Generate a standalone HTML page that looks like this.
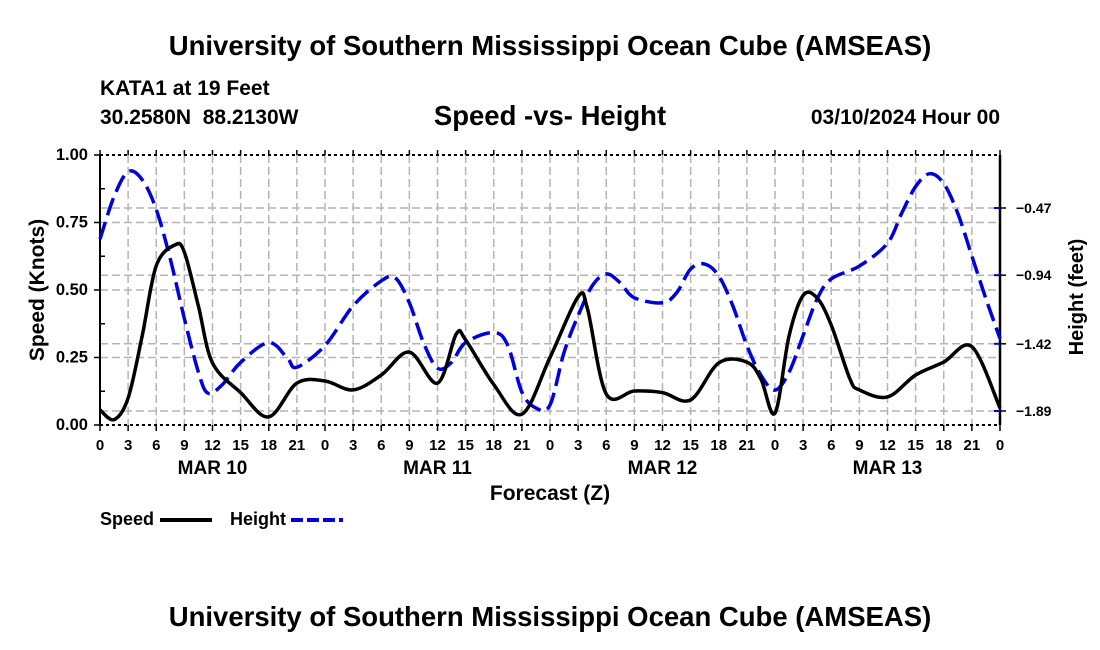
<!DOCTYPE html>
<html><head><meta charset="utf-8"><style>
body{margin:0;background:#fff}
svg{display:block;font-family:"Liberation Sans",sans-serif;font-weight:bold}
</style></head><body>
<svg width="1100" height="650" viewBox="0 0 1100 650">
<text x="550" y="55" text-anchor="middle" font-size="27.5">University of Southern Mississippi Ocean Cube (AMSEAS)</text>
<text x="100" y="95" font-size="21">KATA1 at 19 Feet</text>
<text x="100" y="124" font-size="21" xml:space="preserve">30.2580N  88.2130W</text>
<text x="550" y="125" text-anchor="middle" font-size="27.5">Speed -vs- Height</text>
<text x="1000" y="124" text-anchor="end" font-size="21">03/10/2024 Hour 00</text>
<g id="grid"></g>
<g id="axes"></g>
<g id="series"></g>
<text x="550" y="500" text-anchor="middle" font-size="21">Forecast (Z)</text>
<text transform="translate(44,290) rotate(-90)" text-anchor="middle" font-size="21">Speed (Knots)</text>
<text transform="translate(1083,297) rotate(-90)" text-anchor="middle" font-size="20">Height (feet)</text>
<g><text x="100" y="525" font-size="18">Speed</text><line x1="160" y1="520" x2="212" y2="520" stroke="#000" stroke-width="4"/></g>
<g><text x="230" y="525" font-size="18">Height</text><line x1="291" y1="520" x2="343" y2="520" stroke="#0000dd" stroke-width="4" stroke-dasharray="12 4"/></g>
<text x="550" y="626" text-anchor="middle" font-size="27.5">University of Southern Mississippi Ocean Cube (AMSEAS)</text>
</svg>
<script>
const speedHours=[0,1.5,3,4.5,6,8,9,10.5,12,15,18,21,24,27,30,33,36,38,39,42,45,48,51,52,54,57,60,63,66,69,70.5,72,73.5,75,76.5,78,80,81,84,87,90,93,96];
const speedValues=[0.056,0.02,0.10,0.33,0.59,0.667,0.64,0.44,0.23,0.12,0.03,0.155,0.163,0.13,0.185,0.27,0.155,0.337,0.315,0.15,0.04,0.25,0.475,0.43,0.115,0.126,0.12,0.093,0.23,0.233,0.17,0.044,0.33,0.48,0.47,0.37,0.17,0.13,0.104,0.185,0.233,0.29,0.063];
const heightHours=[0,1.5,3,4.5,6,7.5,9,10.5,11.5,13,15,18,20,21,24,27,30,31.5,33,34.5,36,37.5,39,42,43.5,45,46.5,48,49.5,51,52.5,54,55.5,57,60,61.5,63,64.5,66,67.5,69,70.5,72,73.5,75,76.5,78,81,84,85.5,87,88.5,90,91.5,93,94.5,96];
const heightValues=[-0.688,-0.39,-0.216,-0.272,-0.48,-0.827,-1.244,-1.619,-1.765,-1.709,-1.55,-1.411,-1.522,-1.584,-1.432,-1.154,-0.98,-0.959,-1.133,-1.411,-1.591,-1.55,-1.411,-1.341,-1.432,-1.758,-1.869,-1.848,-1.48,-1.223,-1.015,-0.931,-0.994,-1.098,-1.133,-1.063,-0.897,-0.862,-0.945,-1.154,-1.432,-1.64,-1.744,-1.619,-1.362,-1.105,-0.966,-0.876,-0.716,-0.508,-0.32,-0.23,-0.299,-0.508,-0.806,-1.105,-1.383];
const speedTicks=[0,0.25,0.5,0.75,1.0];
const speedTickLabels=["0.00","0.25","0.50","0.75","1.00"];
const heightTicks=[-1.89,-1.42,-0.94,-0.47];
const heightTickLabels=["-1.89","-1.42","-0.94","-0.47"];
const hourLabels=["0","3","6","9","12","15","18","21"];
const dayLabels=["MAR 10","MAR 11","MAR 12","MAR 13"];

const L=100,R=1000,T=155,B=425;
const xS=h=>L+(h/96)*(R-L);
const yS=v=>B-v*(B-T);
const H0=-1.89,H1=-0.47,HY0=411,HY1=208;
const yH=v=>HY0+(v-H0)/(H1-H0)*(HY1-HY0);
const NS="http://www.w3.org/2000/svg";
function mk(tag,attrs,parent){const e=document.createElementNS(NS,tag);for(const k in attrs)e.setAttribute(k,attrs[k]);parent.appendChild(e);return e;}
const grid=document.getElementById('grid'),axes=document.getElementById('axes'),series=document.getElementById('series');
const gs={stroke:"#b4b4b4","stroke-width":1.5,"stroke-dasharray":"8 4"};
for(let h=3;h<96;h+=3){const e=mk('line',Object.assign({x1:xS(h),x2:xS(h),y1:T,y2:B},gs),grid);}
speedTicks.forEach(v=>{if(v>0&&v<1){const e=mk('line',Object.assign({x1:L,x2:R,y1:yS(v),y2:yS(v)},gs),grid);}});
heightTicks.forEach(v=>{const e=mk('line',Object.assign({x1:L,x2:R,y1:yH(v),y2:yH(v)},gs),grid);});
mk('line',{x1:L,x2:L,y1:T,y2:B,stroke:"#000","stroke-width":2},axes);
mk('line',{x1:R,x2:R,y1:T,y2:B,stroke:"#000","stroke-width":2.5},axes);
mk('line',{x1:L,x2:R,y1:B,y2:B,stroke:"#000","stroke-width":2,"stroke-dasharray":"3 3"},axes);
mk('line',{x1:L,x2:R,y1:T,y2:T,stroke:"#000","stroke-width":2,"stroke-dasharray":"3 3"},axes);
for(let h=0;h<=96;h+=3){const x=xS(h);
 mk('line',{x1:x,x2:x,y1:B,y2:B+6,stroke:"#000","stroke-width":1.5},axes);
 mk('line',{x1:x,x2:x,y1:T,y2:T-5,stroke:"#000","stroke-width":1.5},axes);
 const t=mk('text',{x:x,y:450,"text-anchor":"middle","font-size":15},axes);t.textContent=hourLabels[(h/3)%8];
 }
dayLabels.forEach((d,i)=>{const t=mk('text',{x:xS(12+24*i),y:474,"text-anchor":"middle","font-size":19},axes);t.textContent=d;});
speedTicks.forEach((v,i)=>{const y=yS(v);mk('line',{x1:L-6,x2:L,y1:y,y2:y,stroke:"#000","stroke-width":1.5},axes);
 const t=mk('text',{x:88,y:y+5,"text-anchor":"end","font-size":16.5},axes);t.textContent=speedTickLabels[i];});
for(let v=0.125;v<1;v+=0.25){mk('line',{x1:L,x2:L+5,y1:yS(v),y2:yS(v),stroke:"#000","stroke-width":1.5},axes);}
heightTicks.forEach((v,i)=>{const y=yH(v);mk('line',{x1:R,x2:R-6,y1:y,y2:y,stroke:"#0000dd","stroke-width":2},axes);mk('line',{x1:R,x2:R+6,y1:y,y2:y,stroke:"#000","stroke-width":1.5},axes);
 const t=mk('text',{x:1016,y:y+5,"font-size":14},axes);t.textContent=heightTickLabels[i].replace('-','\u2212');});
function smooth(pts){let d=`M${pts[0][0]},${pts[0][1]}`;for(let i=0;i<pts.length-1;i++){const p0=pts[Math.max(0,i-1)],p1=pts[i],p2=pts[i+1],p3=pts[Math.min(pts.length-1,i+2)];
 const c1x=p1[0]+(p2[0]-p0[0])/6,c1y=p1[1]+(p2[1]-p0[1])/6,c2x=p2[0]-(p3[0]-p1[0])/6,c2y=p2[1]-(p3[1]-p1[1])/6;d+=`C${c1x},${c1y} ${c2x},${c2y} ${p2[0]},${p2[1]}`;}return d;}
const hp=mk('path',{d:smooth(heightHours.map((h,i)=>[xS(h),yH(heightValues[i])])),fill:"none",stroke:"#0000dd","stroke-width":3.5,"stroke-dasharray":"18 7"},series);

const sp=mk('path',{d:smooth(speedHours.map((h,i)=>[xS(h),yS(speedValues[i])])),fill:"none",stroke:"#000","stroke-width":3.5},series);

</script>
</body></html>
